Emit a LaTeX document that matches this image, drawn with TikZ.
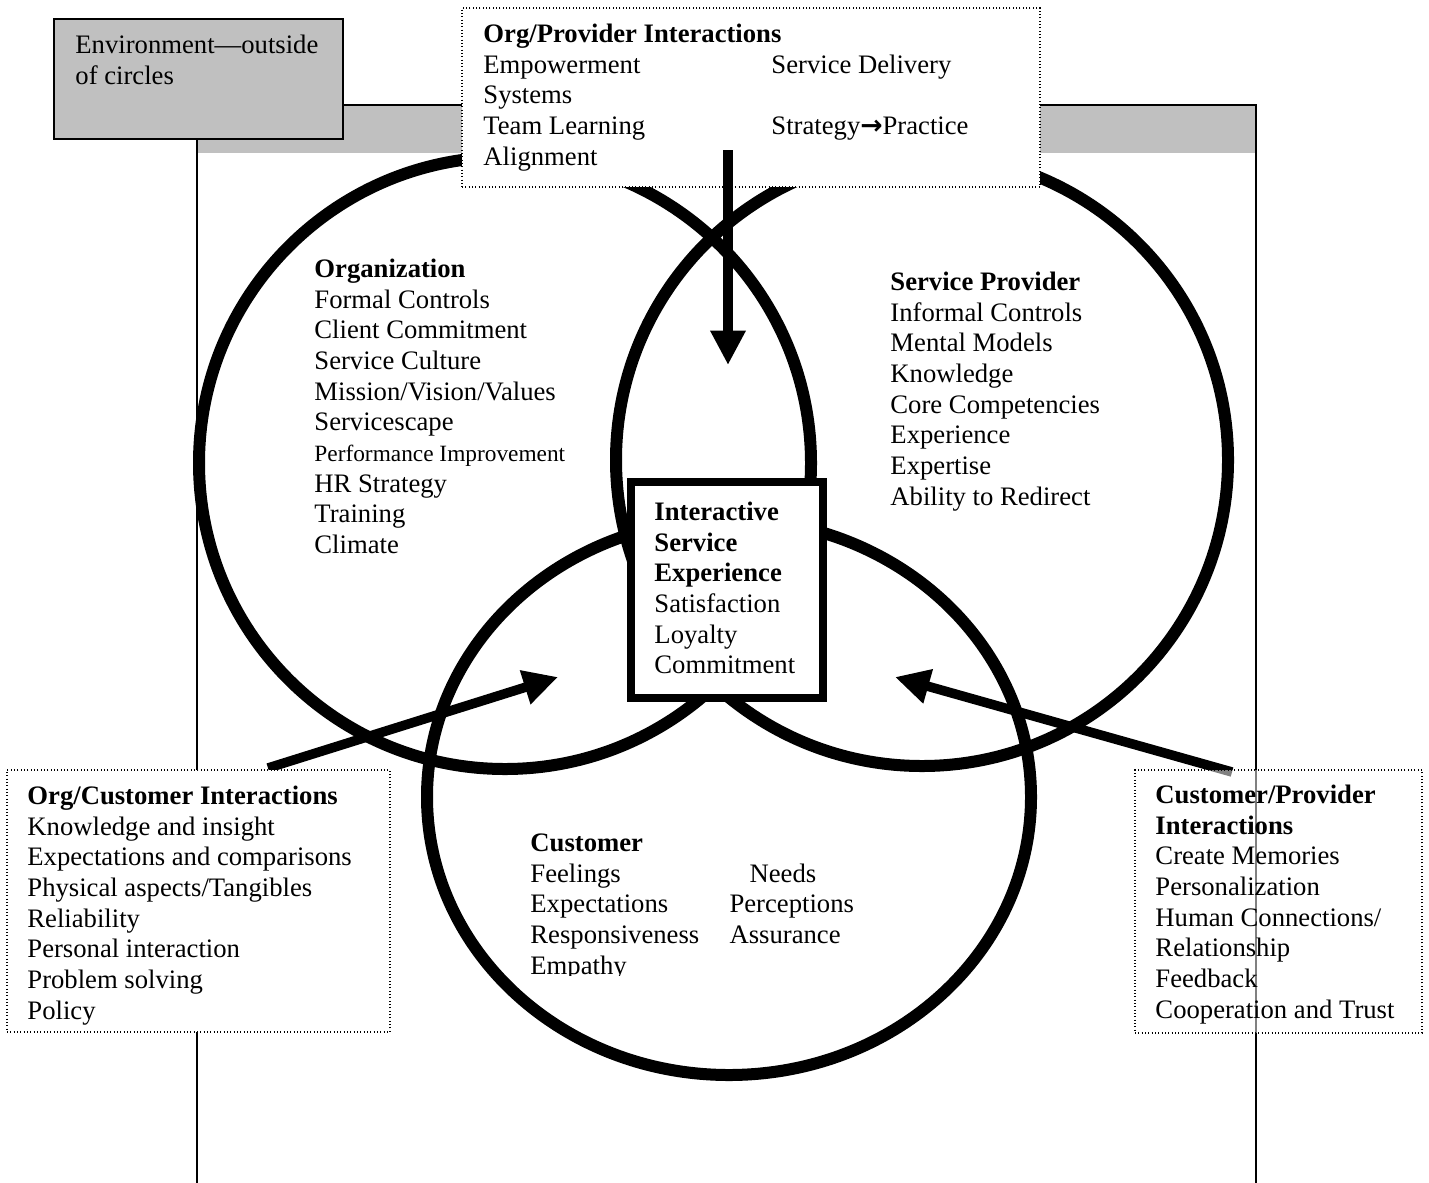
\documentclass[tikz,border=0pt]{standalone}
\usepackage{fontspec}
\setmainfont{Liberation Serif}
\newfontfamily\arrowfont{DejaVu Sans}
\usetikzlibrary{arrows.meta, fit}

\definecolor{envgray}{RGB}{192,192,192}

\tikzset{
  ring/.style={line width=5.4pt},
  frameline/.style={line width=1.3pt},
  dotbox/.style={draw, densely dotted, line width=0.5pt, inner sep=0pt},
  txt/.style={anchor=north west, inner sep=0pt, align=left,
    font=\fontsize{12}{13.8}\selectfont},
  bigarrow/.style={line width=4.3pt, -{Triangle[length=15.5pt, width=15pt]}},
}

\begin{document}
\begin{tikzpicture}[x=0.45pt, y=-0.45pt]
    \clip (0,0) rectangle (1429,1182);

    % Environment frame with grey band
    \fill[envgray] (197,105) rectangle (1256,153);
    \draw[frameline] (197,1190) -- (197,105) -- (1256,105) -- (1256,1190);

    % The three circles
    \draw[ring] (505,463) circle [radius=306];
    \draw[ring] (922,460) circle [radius=306];
    \draw[ring] (729,797) ellipse [x radius=302, y radius=278];

    % Centre box
    \node[draw, line width=3.6pt, fill=white, inner sep=0pt,
          fit={(631,482) (823,698)}] (cenbox) {};
    \node[txt] (centxt) at (654,498.5) {\textbf{\strut Interactive}\\
        \textbf{Service}\\\textbf{Experience}\\Satisfaction\\Loyalty\\Commitment};

    % Text inside the circles
    \node[txt] (orgtxt) at (314,255.5) {\textbf{\strut Organization}\\
        Formal Controls\\Client Commitment\\Service Culture\\
        Mission/Vision/Values\\Servicescape\\
        {\fontsize{10.5}{12}\selectfont Performance Improvement}\\
        HR Strategy\\Training\\Climate};

    \node[txt] (provtxt) at (890,268.5) {\textbf{\strut Service Provider}\\
        Informal Controls\\Mental Models\\Knowledge\\Core Competencies\\
        Experience\\Expertise\\Ability to Redirect};

    \begin{scope}
        \clip (505,815) rectangle (910,975);
        \node[txt] (custtxt) at (530,829.5) {\begin{tabular}{@{}p{89.6pt}@{}l@{}}
            \multicolumn{2}{@{}l@{}}{\textbf{Customer}}\\
            Feelings & \hspace{9pt}Needs\\
            Expectations & Perceptions\\
            Responsiveness & Assurance\\
            Empathy &
        \end{tabular}};
    \end{scope}

    % Org/Provider interactions (top)
    \node[dotbox, fill=white, fit={(462,8) (1040,187)}] (opbox) {};
    \node[txt] (optxt) at (483,20.5) {\begin{tabular}{@{}p{129.6pt}@{}l@{}}
        \multicolumn{2}{@{}l@{}}{\textbf{Org/Provider Interactions}}\\
        Empowerment & Service Delivery\\
        Systems & \\
        Team Learning & Strategy{\arrowfont\bfseries →}Practice\\
        Alignment &
    \end{tabular}};

    % Arrows into the overlaps
    \coordinate (opfoot) at (728,150);
    \coordinate (optip) at (728,365);
    \coordinate (octail) at (268,768);
    \coordinate (octip) at (558,677);
    \coordinate (cptail) at (1232,772);
    \coordinate (cptip) at (895,677);

    \draw[bigarrow] (opfoot) -- (optip);
    \draw[bigarrow] (octail) -- (octip);
    \draw[bigarrow] (cptail) -- (cptip);

    % Org/Customer interactions (left)
    \node[dotbox, fill=white, fit={(7,770) (390,1032)}] (ocbox) {};
    \node[txt] (octxt) at (27,782.5) {\textbf{\strut Org/Customer Interactions}\\
        Knowledge and insight\\Expectations and comparisons\\
        Physical aspects/Tangibles\\Reliability\\Personal interaction\\
        Problem solving\\Policy};

    % Customer/Provider interactions (right)
    \node[dotbox, fill=white, fill opacity=0.5, fit={(1135,770) (1422,1033)}] (cpbox) {};
    \node[txt] (cptxt) at (1155,781.5) {\textbf{\strut Customer/Provider}\\
        \textbf{Interactions}\\Create Memories\\Personalization\\
        Human Connections/\\Relationship\\Feedback\\Cooperation and Trust};

    % Environment label
    \node[draw, line width=1.2pt, fill=envgray, inner sep=0pt,
          fit={(54,19) (343,139)}] (envbox) {};
    \node[txt] (envtxt) at (75,31.5) {\strut Environment—outside\\of circles};
\end{tikzpicture}
\end{document}
